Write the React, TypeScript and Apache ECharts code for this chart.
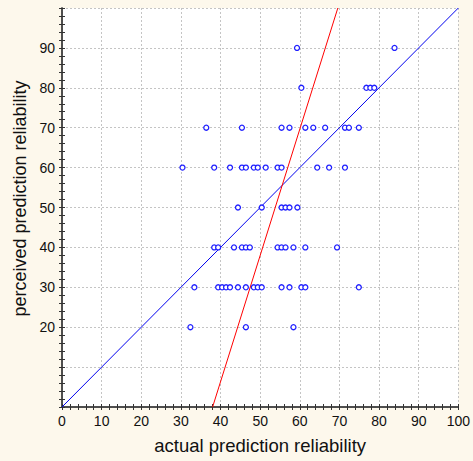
import React, { useEffect, useRef } from "react";
import * as echarts from "echarts";

// x values (actual prediction reliability) per perceived level
const levels = [90, 80, 70, 60, 50, 40, 30, 20];
const actualAt90 = [59.3, 83.9];
const actualAt80 = [60.4, 76.8, 77.8, 78.8];
const actualAt70 = [36.4, 45.4, 55.4, 57.4, 61.4, 63.4, 66.4, 71.4, 72.4, 74.9];
const actualAt60 = [30.4, 38.4, 42.4, 45.4, 46.4, 48.4, 49.4, 51.4, 54.4, 55.4, 64.4, 67.4, 71.4];
const actualAt50 = [44.4, 50.4, 55.4, 56.4, 57.4, 59.4];
const actualAt40 = [38.4, 39.4, 43.4, 45.4, 46.4, 47.4, 54.4, 55.4, 56.4, 58.4, 61.4, 69.4];
const actualAt30 = [33.4, 39.4, 40.4, 41.4, 42.4, 44.4, 46.4, 48.4, 49.4, 50.4, 55.4, 57.4, 60.4, 61.4, 74.9];
const actualAt20 = [32.4, 46.4, 58.4];

const identityLine = [[0, 0], [100, 100]];
const regressionLine = [[38, 0], [69.6, 100]];

const xTickValues = [0, 10, 20, 30, 40, 50, 60, 70, 80, 90, 100];
const yLabelMin = 20;
const yLabelMax = 90;

export default function App() {
  const ref = useRef<HTMLDivElement>(null);
  useEffect(() => {
    if (!ref.current) return;
    const chart = echarts.init(ref.current, undefined, { renderer: "svg" });
    const rows = [actualAt90, actualAt80, actualAt70, actualAt60, actualAt50, actualAt40, actualAt30, actualAt20];
    const points: number[][] = [];
    rows.forEach((row, i) => row.forEach((x) => points.push([x, levels[i]])));
    const font = "Liberation Sans, Arial, sans-serif";
    const axisLine = { show: true, lineStyle: { color: "#444", width: 1.5 } };
    const tick = { show: true, inside: true, length: 3, lineStyle: { color: "#333", width: 1 } };
    const minor = { show: true, splitNumber: 5, length: 3, lineStyle: { color: "#333", width: 1 } };
    const split = { show: true, lineStyle: { color: "#c4c4c4", type: [2, 2] as any, width: 1 } };
    chart.setOption({
      animation: false,
      backgroundColor: "#fdf8ec",
      grid: { left: 62, top: 8, width: 400, height: 399, backgroundColor: "#ffffff", show: true, borderWidth: 0 },
      xAxis: [
        {
          type: "value", min: 0, max: 100, interval: 10, position: "bottom",
          axisLine, axisTick: tick, minorTick: minor, splitLine: split,
          axisLabel: {
            color: "#111", fontSize: 14, fontFamily: font, margin: 7,
            formatter: (v: number) => (xTickValues.includes(v) ? String(v) : ""),
          },
          name: "actual prediction reliability", nameLocation: "middle", nameGap: 29,
          nameTextStyle: { color: "#111", fontSize: 18.5, fontFamily: font },
        },
        {
          type: "value", min: 0, max: 100, interval: 10, position: "top",
          axisLine, axisTick: tick, minorTick: minor, splitLine: { show: false },
          axisLabel: { show: false },
        },
      ],
      yAxis: [
        {
          type: "value", min: 0, max: 100, interval: 10, position: "left",
          axisLine, axisTick: tick, minorTick: minor, splitLine: split,
          axisLabel: {
            color: "#111", fontSize: 14, fontFamily: font, margin: 7,
            formatter: (v: number) => (v >= yLabelMin && v <= yLabelMax ? String(v) : ""),
          },
          name: "perceived prediction reliability", nameLocation: "middle", nameGap: 31,
          nameTextStyle: { color: "#111", fontSize: 18, fontFamily: font, padding: [0, 0, 0, 18] },
        },
        {
          type: "value", min: 0, max: 100, interval: 10, position: "right",
          axisLine, axisTick: tick, minorTick: minor, splitLine: { show: false },
          axisLabel: { show: false },
        },
      ],
      series: [
        {
          type: "line", data: identityLine, symbol: "none",
          lineStyle: { color: "#0000ee", width: 1 }, z: 3,
        },
        {
          type: "line", data: regressionLine, symbol: "none",
          lineStyle: { color: "#ff0000", width: 1 }, z: 3,
        },
        {
          type: "scatter", data: points, symbol: "circle", symbolSize: 5,
          itemStyle: { color: "#ffffff", borderColor: "#2020ff", borderWidth: 1.3, opacity: 1 }, z: 4,
        },
      ],
    });
    return () => chart.dispose();
  }, []);
  return <div ref={ref} style={{ position: "fixed", left: 0, top: 0, width: 473, height: 461 }} />;
}
